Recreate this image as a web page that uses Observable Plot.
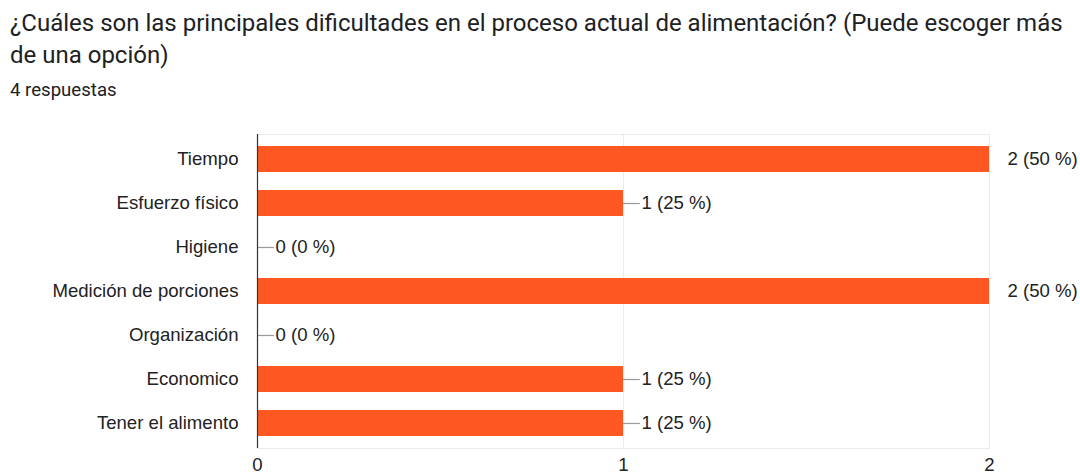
<!DOCTYPE html>
<html>
<head>
<meta charset="utf-8">
<script src="https://cdn.jsdelivr.net/npm/d3@7"></script>
<script src="https://cdn.jsdelivr.net/npm/@observablehq/plot@0.6"></script>
<style>
  html, body { margin: 0; padding: 0; background: #fff; width: 1080px; height: 476px; overflow: hidden; }
  #title { position: absolute; left: 10px; top: 7px; font-family: Roboto, sans-serif; font-size: 24px; line-height: 32px; color: #202124; white-space: nowrap; }
  #sub { position: absolute; left: 10px; top: 79px; font-family: Roboto, sans-serif; font-size: 18.6px; line-height: 22px; color: #202124; }
  #chart { position: absolute; left: 0; top: 110px; }
</style>
</head>
<body>
<div id="title">¿Cuáles son las principales dificultades en el proceso actual de alimentación? (Puede escoger más<br>de una opción)</div>
<div id="sub">4 respuestas</div>
<div id="chart"></div>
<script>
const categories = ["Tiempo", "Esfuerzo físico", "Higiene", "Medición de porciones", "Organización", "Economico", "Tener el alimento"];
const counts = [2, 1, 0, 2, 0, 1, 1];
const totalResponses = 4;
const xTicks = [0, 1, 2];

const data = categories.map((c, i) => ({
  cat: c,
  value: counts[i],
  label: `${counts[i]} (${Math.round(counts[i] / totalResponses * 100)} %)`
}));

const maxX = 2;
const font = "'Liberation Sans', Arial, sans-serif";
const fs = 18.6;

const chart = Plot.plot({
  width: 1080,
  height: 366,
  marginLeft: 257,
  marginRight: 91,
  marginTop: 24,
  marginBottom: 28,
  style: { fontFamily: font, fontSize: fs + "px", color: "#222", background: "#fff" },
  x: { domain: [0, maxX], ticks: xTicks, label: null },
  y: { domain: categories, paddingInner: 0.4, paddingOuter: 0.2, label: null },
  marks: [
    Plot.frame({ stroke: "#ebebeb" }),
    Plot.gridX(xTicks.filter(t => t > 0), { stroke: "#ebebeb", strokeOpacity: 1 }),
    Plot.barX(data, { y: "cat", x: "value", fill: "#ff5722" }),
    Plot.ruleY(data.filter(d => d.value < maxX), { y: "cat", x1: "value", x2: d => d.value + 0.046, stroke: "#999", strokeWidth: 1.2 }),
    Plot.text(data, { y: "cat", x: "value", text: "label", textAnchor: "start", dx: 18, fill: "#222", fontSize: fs }),
    Plot.ruleX([0], { stroke: "#333", strokeWidth: 1.2 }),
    Plot.axisY({ tickSize: 0, tickPadding: 19, fontSize: fs, label: null, fill: "#222" }),
    Plot.axisX(xTicks, { tickSize: 0, tickPadding: 9, fontSize: fs, label: null, fill: "#222", tickFormat: d => String(d) })
  ]
});
document.getElementById("chart").appendChild(chart);
</script>
</body>
</html>
